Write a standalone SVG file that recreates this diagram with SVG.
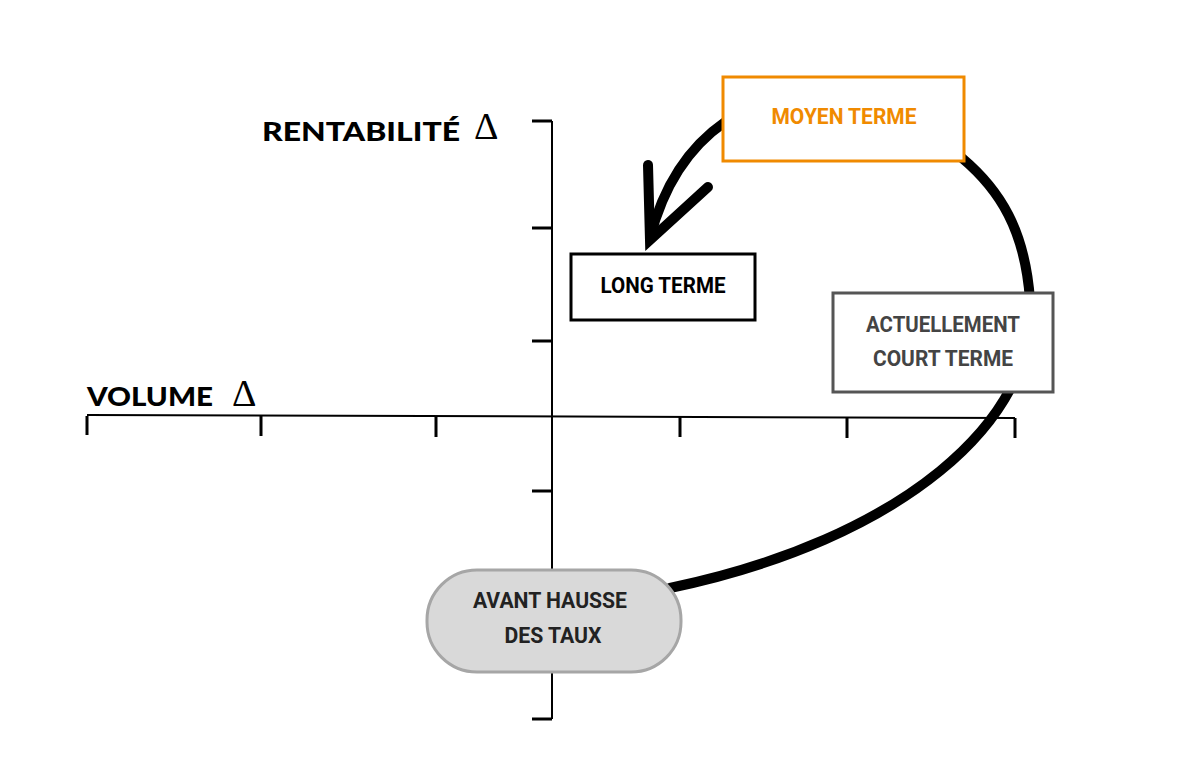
<svg xmlns="http://www.w3.org/2000/svg" width="1180" height="781" viewBox="0 0 1180 781">
<style>
.ax{stroke:#000;stroke-width:2;fill:none}
.tk{stroke:#000;stroke-width:3;fill:none}
.lbl{font-family:Roboto,"Liberation Sans",sans-serif;font-weight:bold;font-size:22px;text-anchor:middle}
.axl{font-family:Lato,"Liberation Sans",sans-serif;font-weight:900;font-size:27px}
.dl{font-family:"Liberation Serif",serif;font-size:38px}
.cyc{stroke:#000;stroke-width:10;fill:none;stroke-linecap:round}
</style>
<rect width="1180" height="781" fill="#fff"/>
<g id="axes">
<line class="ax" x1="552" y1="121" x2="552" y2="719"/>
<line class="ax" x1="87" y1="415" x2="1015" y2="418"/>
<path class="tk" d="M532 121H552M532 228H552M532 341H552M532 491H552M532 719H552"/>
<path class="tk" d="M87 416V435M261 416V436M436 417V437M680 417V437M847 418V438M1015 418V438"/>
<text class="axl" x="262" y="141" textLength="198" lengthAdjust="spacingAndGlyphs">RENTABILITÉ</text>
<text class="dl" x="474" y="139">Δ</text>
<text class="axl" x="87" y="406" textLength="126" lengthAdjust="spacingAndGlyphs">VOLUME</text>
<text class="dl" x="232" y="406">Δ</text>
</g>
<g id="connectors">
<path class="cyc" d="M670 588C900 540 1040 420 1030 300C1025 230 1000 190 962 158"/>
<path class="cyc" d="M725 122Q670 160 650 238"/>
<path class="cyc" d="M648 165L650 240L708 187"/>
</g>
<g id="moyen"><rect x="723" y="77" width="241" height="84" fill="#fff" stroke="#F08A00" stroke-width="3"/><text class="lbl" x="844" y="124" fill="#F08A00" textLength="145" lengthAdjust="spacingAndGlyphs">MOYEN TERME</text></g>
<g id="long"><rect x="571" y="254" width="184" height="66" fill="#fff" stroke="#000" stroke-width="3"/><text class="lbl" x="663" y="293" fill="#000" textLength="125" lengthAdjust="spacingAndGlyphs">LONG TERME</text></g>
<g id="actuel"><rect x="833" y="293" width="220" height="99" fill="#fff" stroke="#555" stroke-width="3"/><text class="lbl" x="943" y="332" fill="#444" textLength="154" lengthAdjust="spacingAndGlyphs">ACTUELLEMENT</text><text class="lbl" x="943" y="366" fill="#444" textLength="140" lengthAdjust="spacingAndGlyphs">COURT TERME</text></g>
<g id="avant"><rect x="427" y="570" width="254" height="102" rx="50" fill="#d9d9d9" stroke="#a6a6a6" stroke-width="3"/><text class="lbl" x="550" y="608" fill="#222" textLength="154" lengthAdjust="spacingAndGlyphs">AVANT HAUSSE</text><text class="lbl" x="553" y="643" fill="#222" textLength="97" lengthAdjust="spacingAndGlyphs">DES TAUX</text></g>
</svg>
